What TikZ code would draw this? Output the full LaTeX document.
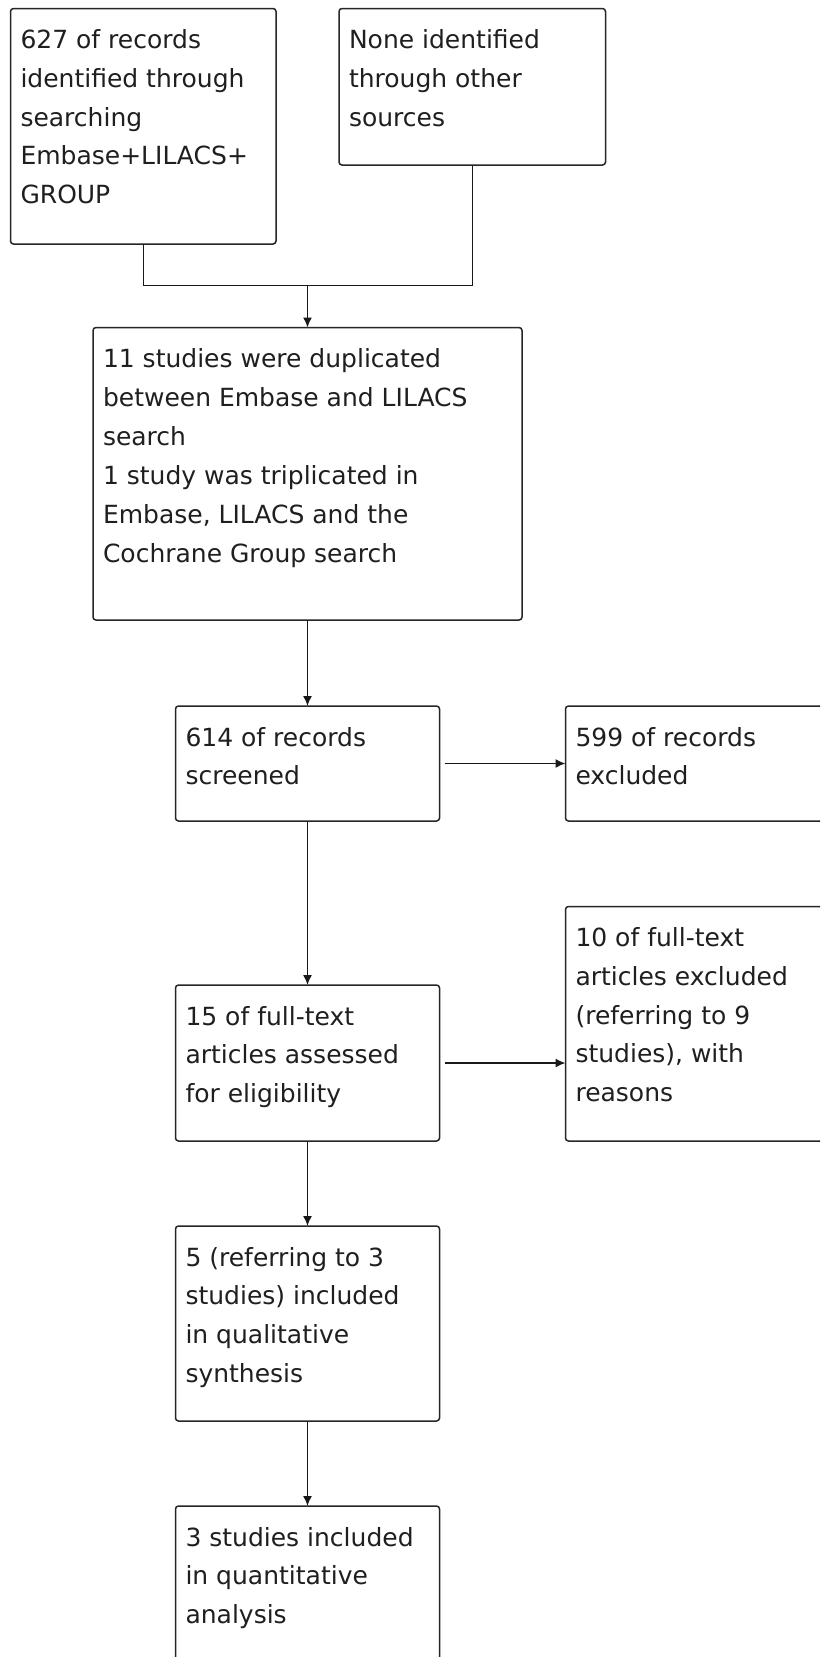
\documentclass[tikz,border=0pt]{standalone}
\usepackage{fontspec}
\setmainfont{DejaVu Sans}
\usetikzlibrary{arrows.meta}
\newcommand\bxt[3]{\parbox[c][#2][t]{#1}{\raggedright\leftskip=10pt\fontsize{25}{38.8}\selectfont\color{black!88}\rule{0pt}{40pt}#3}}
\tikzset{
  box/.style={draw=black!85, line width=1.5pt, rounded corners=3pt, inner sep=0pt, outer sep=0pt, anchor=north west, fill=white},
  conn/.style={draw=black!90, line width=1.5pt},
  arr/.style={conn, -{Latex[length=10pt,width=9pt]}}
}
\begin{document}
\begin{tikzpicture}[x=1pt,y=-1pt]
\useasboundingbox[fill=white] (0,0) rectangle (820,1657);
\clip (0,0) rectangle (820,1657);
\node[box] (b1) at (10.5,8.5) {\bxt{265.5pt}{235.5pt}{627 of records\\identified through\\searching\\Embase+LILACS+\\GROUP}};
\node[box] (b2) at (339,8.5) {\bxt{266.5pt}{156.5pt}{None identified\\through other\\sources}};
\node[box] (b3) at (93,327.5) {\bxt{429pt}{292.5pt}{11 studies were duplicated\\between Embase and LILACS\\search\\[1pt]1 study was triplicated in\\Embase, LILACS and the\\Cochrane Group search}};
\node[box] (b4) at (175.5,706) {\bxt{264pt}{115pt}{614 of records\\screened}};
\node[box] (b5) at (565.5,706) {\bxt{270pt}{115pt}{599 of records\\excluded}};
\node[box] (b6) at (175.5,985) {\bxt{264pt}{156pt}{15 of full-text\\articles assessed\\for eligibility}};
\node[box] (b7) at (565.5,906.5) {\bxt{270pt}{234.5pt}{10 of full-text\\articles excluded\\(referring to 9\\studies), with\\reasons}};
\node[box] (b8) at (175.5,1226) {\bxt{264pt}{195pt}{5 (referring to 3\\studies) included\\in qualitative\\synthesis}};
\node[box] (b9) at (175.5,1506) {\bxt{264pt}{200pt}{3 studies included\\in quantitative\\analysis}};
\coordinate (j) at (307.5,285.3);
\draw[conn] (b1.south) |- (j) -| (b2.south);
\draw[arr] (j) -- (b3.north);
\draw[arr] (b3.south) -- (b4.north);
\draw[arr] ([xshift=5pt]b4.east) -- (b5.west);
\draw[arr] (b4.south) -- (b6.north);
\draw[arr] ([xshift=5pt]b6.east) -- (b6.east -| b7.west);
\draw[arr] (b6.south) -- (b8.north);
\draw[arr] (b8.south) -- (b9.north);
\end{tikzpicture}
\end{document}
